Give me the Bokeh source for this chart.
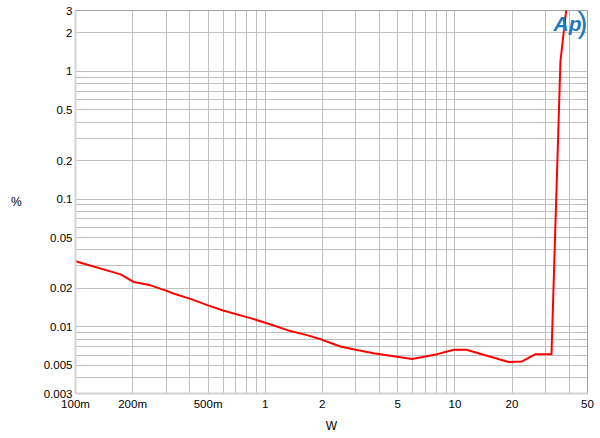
import json
from bokeh.plotting import figure
from bokeh.models import FixedTicker, CustomJSTickFormatter, Label, Range1d
from bokeh.embed import file_html
from bokeh.resources import INLINE

# ---- data ----
power_w = [0.1, 0.173, 0.203, 0.249, 0.3, 0.328, 0.4, 0.5, 0.6, 0.8, 0.9,
           1.07, 1.31, 1.66, 2.0, 2.49, 3.0, 3.73, 5.95, 8.07, 9.86, 11.5,
           19.2, 22.6, 26.6, 32.3, 36.0, 39.1]
thd_pct = [0.0326, 0.0257, 0.0224, 0.0211, 0.0192, 0.0182, 0.0166, 0.0147,
           0.0134, 0.0119, 0.0113, 0.0104, 0.0094, 0.0086, 0.0079, 0.0070,
           0.0066, 0.0062, 0.0056, 0.0061, 0.0066, 0.0066, 0.0053, 0.00535,
           0.0061, 0.0061, 1.2, 3.6]

x_grid_values = [0.1, 0.2, 0.3, 0.4, 0.5, 0.6, 0.7, 0.8, 0.9,
                 1, 2, 3, 4, 5, 6, 7, 8, 9, 10, 20, 30, 40, 50]
x_label_values = [0.1, 0.2, 0.5, 1, 2, 5, 10, 20, 50]
x_label_texts = ["100m", "200m", "500m", "1", "2", "5", "10", "20", "50"]

y_grid_values = [0.003, 0.004, 0.005, 0.006, 0.007, 0.008, 0.009,
                 0.01, 0.02, 0.03, 0.04, 0.05, 0.06, 0.07, 0.08, 0.09,
                 0.1, 0.2, 0.3, 0.4, 0.5, 0.6, 0.7, 0.8, 0.9, 1, 2, 3]
y_label_values = [0.003, 0.005, 0.01, 0.02, 0.05, 0.1, 0.2, 0.5, 1, 2, 3]
y_label_texts = ["0.003", "0.005", "0.01", "0.02", "0.05", "0.1", "0.2",
                 "0.5", "1", "2", "3"]

x_title = "W"
y_title = "%"

FONT = "Liberation Sans"
GRID = "#c0c0c0"


def fmt(values, texts):
    m = {str(v): t for v, t in zip(values, texts)}
    code = "const m = %s; const k = String(tick); return (k in m) ? m[k] : '';" % json.dumps(m)
    return CustomJSTickFormatter(code=code)


p = figure(frame_width=512, frame_height=383, x_axis_type="log", y_axis_type="log",
           x_range=Range1d(0.1, 50), y_range=Range1d(0.003, 3),
           output_backend="svg", toolbar_location=None,
           min_border_left=75, min_border_right=13,
           min_border_top=10, min_border_bottom=45)

p.background_fill_color = "white"
p.border_fill_color = "white"
p.outline_line_color = "#a0a0a0"
p.outline_line_width = 1

p.xaxis.ticker = FixedTicker(ticks=x_grid_values)
p.yaxis.ticker = FixedTicker(ticks=y_grid_values)
p.xaxis.formatter = fmt(x_label_values, x_label_texts)
p.yaxis.formatter = fmt(y_label_values, y_label_texts)

for ax in (p.xaxis[0], p.yaxis[0]):
    ax.major_tick_line_color = None
    ax.minor_tick_line_color = None
    ax.major_tick_out = 0
    ax.major_tick_in = 0
    ax.minor_tick_out = 0
    ax.minor_tick_in = 0
    ax.axis_line_color = "#d4d4d4"
    ax.axis_line_width = 2
    ax.major_label_text_font = FONT
    ax.major_label_text_font_size = "11.5px"
    ax.major_label_text_color = "black"
    ax.axis_label_text_font = FONT
    ax.axis_label_text_font_size = "12px"
    ax.axis_label_text_font_style = "normal"
    ax.axis_label_text_color = "black"

p.xaxis.major_label_standoff = 4
p.yaxis.major_label_standoff = 3
p.xaxis.axis_label = x_title
p.yaxis.axis_label = y_title
p.xaxis.axis_label_standoff = 6
p.yaxis.axis_label_standoff = 19
p.yaxis.axis_label_orientation = "horizontal"

p.xgrid.grid_line_color = GRID
p.ygrid.grid_line_color = GRID
p.xgrid.grid_line_width = 1
p.ygrid.grid_line_width = 1

p.line(power_w, thd_pct, line_color="#ff0000", line_width=2)

# Audio Precision logo (screen units are relative to the plot frame)
p.add_layout(Label(x=478, y=359, x_units="screen", y_units="screen",
                   text="Ap", text_font=FONT, text_font_style="bold italic",
                   text_font_size="21px", text_color="#1f78bf"))
p.add_layout(Label(x=502, y=355, x_units="screen", y_units="screen",
                   text=")", text_font=FONT, text_font_style="normal",
                   text_font_size="30px", text_color="#1f78bf"))

open("out.html", "w").write(file_html(p, INLINE))
